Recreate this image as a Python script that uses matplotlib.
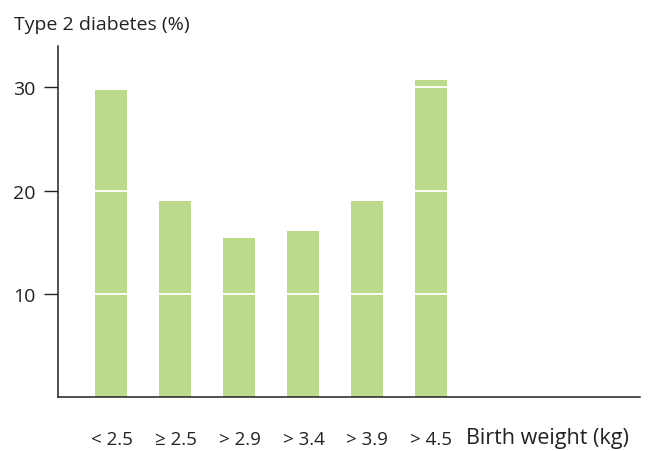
import numpy as np
import matplotlib.pyplot as plt

plt.rcParams['font.family'] = ['Open Sans', 'DejaVu Sans']

categories = ['< 2.5', '≥ 2.5', '> 2.9', '> 3.4', '> 3.9', '> 4.5']
diabetes_pct = [29.7, 19.0, 15.4, 16.1, 19.0, 30.7]
yticks = [10, 20, 30]

bar_color = '#bdd98b'
ink = '#222222'

fig = plt.figure(figsize=(6.51, 4.52), dpi=100)
ax = fig.add_axes([58 / 651, 1 - 398 / 452, (640 - 58) / 651, (398 - 47) / 452])

x = np.arange(len(categories))
ax.bar(x, diabetes_pct, width=0.5, color=bar_color, zorder=1)

# white lines cutting through the bars at the ticks
for v in yticks:
    ax.axhline(v, color='white', lw=1.3, zorder=2)

ax.set_xlim(-0.836, 8.26)
ax.set_ylim(0, 34)

ax.set_yticks(yticks)
ax.set_yticklabels([str(v) for v in yticks], fontsize=14, color=ink)
ax.tick_params(axis='y', length=10, width=1.0, color=ink, pad=6)

ax.set_xticks(x)
ax.set_xticklabels(categories, fontsize=13.5, color=ink)
ax.tick_params(axis='x', length=0, pad=24)

for s in ['top', 'right']:
    ax.spines[s].set_visible(False)
for s in ['left', 'bottom']:
    ax.spines[s].set_color(ink)
    ax.spines[s].set_linewidth(1.1)

fig.text(14 / 651, 1 - 25 / 452, 'Type 2 diabetes (%)', fontsize=14, color=ink,
         ha='left', va='center')
fig.text(466 / 651, 1 - 439 / 452, 'Birth weight (kg)', fontsize=15.5, color=ink,
         ha='left', va='center')

fig.savefig('out.png', dpi=100)
